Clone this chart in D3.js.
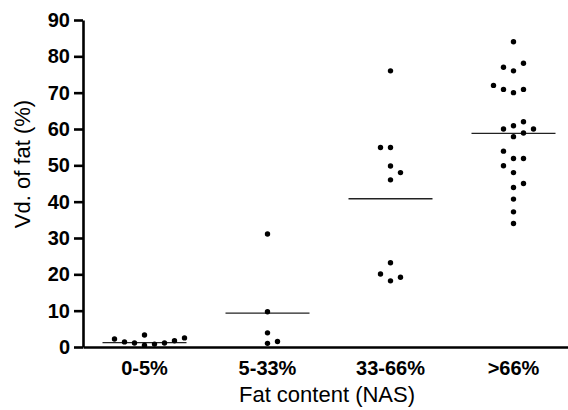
<!DOCTYPE html>
<html>
  <head>
    <meta charset="utf-8" />
    <style>
      body {
        margin: 0;
        background: #fff;
      }
      svg text {
        font-family: "Liberation Sans", Arial, sans-serif;
      }
    </style>
    <script src="https://d3js.org/d3.v7.min.js"></script>
  </head>
  <body>
    <div id="chart"></div>
    <script type="text/javascript">
      // categories and values
      var categories = ["0-5%", "5-33%", "33-66%", ">66%"];
      var group05 = [1.7, 1.1, 0.5, 2.5, 3.3, 2.2, 0.8, 1.1, 1.4];
      var group533 = [31.1, 9.7, 3.9, 1.0, 1.5];
      var group3366 = [76.0, 54.9, 54.9, 49.8, 48.0, 46.0, 23.2, 20.1, 19.2, 18.2];
      var group66 = [84.0, 78.1, 77.0, 76.0, 72.0, 70.9, 70.9, 70.0, 62.0, 60.9,
        60.0, 60.0, 58.9, 57.9, 53.9, 51.9, 51.9, 49.9, 48.0, 45.0, 43.9, 40.7, 37.2, 34.0];
      var means = [1.2, 9.3, 40.8, 58.8];
      var yTicks = [0, 10, 20, 30, 40, 50, 60, 70, 80, 90];

      var groups = [group05, group533, group3366, group66];

      var w = 568;
      var h = 410;

      var svg = d3
        .select("#chart")
        .append("svg")
        .attr("width", w)
        .attr("height", h);

      var y = d3.scaleLinear().domain([0, 90]).range([347, 20]);
      var x = d3
        .scaleBand()
        .domain(categories)
        .range([83, 575])
        .padding(0);

      // simple swarm: put each point in the nearest free slot beside the centre
      function swarm(vals, step, minDist) {
        var placed = [];
        var order = vals
          .map(function (v, i) { return { v: v, i: i }; })
          .sort(function (a, b) { return a.v - b.v; });
        order.forEach(function (p) {
          var py = y(p.v);
          var left = placed.filter(function (q) { return q.dx < 0; }).length;
          var right = placed.filter(function (q) { return q.dx > 0; }).length;
          for (var k = 0; k < 30; k++) {
            var cands = k === 0 ? [0] : left < right ? [-k * step, k * step] : [k * step, -k * step];
            var found = null;
            for (var c = 0; c < cands.length; c++) {
              var ok = placed.every(function (q) {
                var ddx = q.dx - cands[c];
                var ddy = q.py - py;
                return Math.sqrt(ddx * ddx + ddy * ddy) >= minDist;
              });
              if (ok) { found = cands[c]; break; }
            }
            if (found !== null) {
              placed.push({ v: p.v, i: p.i, dx: found, py: py });
              break;
            }
          }
        });
        return placed;
      }

      // axes
      var yAxis = svg
        .append("g")
        .attr("transform", "translate(83,0)")
        .call(d3.axisLeft(y).tickValues(yTicks).tickSize(9).tickSizeOuter(0).tickPadding(4));
      yAxis.select(".domain").attr("stroke", "#000").attr("stroke-width", 2.6);
      yAxis.selectAll(".tick line").attr("stroke", "#000").attr("stroke-width", 2.6);
      yAxis
        .selectAll(".tick text")
        .attr("font-size", 20)
        .attr("font-weight", "bold")
        .attr("fill", "#000")
        .style("font-family", "'Liberation Sans', Arial, sans-serif");

      var xAxis = svg
        .append("g")
        .attr("transform", "translate(0,347)")
        .call(d3.axisBottom(x).tickSize(0).tickSizeOuter(0).tickPadding(14));
      xAxis.select(".domain").attr("stroke", "#000").attr("stroke-width", 2.6);
      xAxis
        .selectAll(".tick text")
        .attr("font-size", 20)
        .attr("font-weight", "bold")
        .attr("fill", "#000")
        .style("font-family", "'Liberation Sans', Arial, sans-serif");

      // mean lines
      svg
        .selectAll("line.mean")
        .data(means)
        .enter()
        .append("line")
        .attr("class", "mean")
        .attr("x1", function (d, i) { return x(categories[i]) + x.bandwidth() / 2 - 42; })
        .attr("x2", function (d, i) { return x(categories[i]) + x.bandwidth() / 2 + 42; })
        .attr("y1", function (d) { return y(d); })
        .attr("y2", function (d) { return y(d); })
        .attr("stroke", "#222")
        .attr("stroke-width", 1.3);

      // points
      groups.forEach(function (vals, gi) {
        var cx = x(categories[gi]) + x.bandwidth() / 2;
        svg
          .append("g")
          .selectAll("circle")
          .data(swarm(vals, 5, 9.5))
          .enter()
          .append("circle")
          .attr("cx", function (d) { return cx + d.dx; })
          .attr("cy", function (d) { return y(d.v); })
          .attr("r", 2.7)
          .attr("fill", "#000");
      });

      // axis titles
      svg
        .append("text")
        .attr("x", 327)
        .attr("y", 402)
        .attr("text-anchor", "middle")
        .attr("font-size", 22)
        .text("Fat content (NAS)");

      svg
        .append("text")
        .attr("transform", "translate(30,164)rotate(-90)")
        .attr("text-anchor", "middle")
        .attr("font-size", 22)
        .text("Vd. of fat (%)");
    </script>
  </body>
</html>
